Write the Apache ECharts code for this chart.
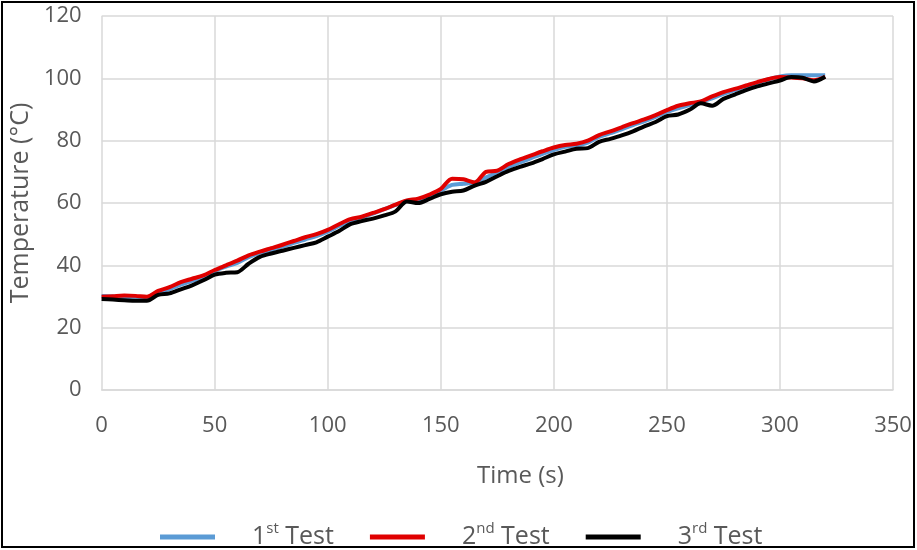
<!DOCTYPE html>
<html>
<head>
<meta charset="utf-8">
<script src="https://cdn.jsdelivr.net/npm/echarts@6/dist/echarts.min.js"></script>
<style>
html,body{margin:0;padding:0;background:#fff;}
#chart{width:917px;height:550px;}
</style>
</head>
<body>
<div id="chart"></div>
<script>
const times = [0,5,10,15,20,25,30,35,40,45,50,55,60,65,70,75,80,85,90,95,100,105,110,115,120,125,130,135,140,145,150,155,160,165,170,175,180,185,190,195,200,205,210,215,220,225,230,235,240,245,250,255,260,265,270,275,280,285,290,295,300,305,310,315,320];
const test1 = [30.2,30.0,29.8,29.9,29.8,31.4,32.4,33.8,35.0,36.3,38.2,39.6,40.8,42.6,44.0,45.0,46.0,47.2,48.3,49.4,50.8,52.6,54.3,55.4,56.6,58.0,59.4,60.6,61.0,62.4,64.0,65.8,66.2,66.6,68.2,69.8,71.6,73.0,74.4,75.8,77.0,78.0,78.5,79.4,81.2,82.4,83.6,85.0,86.2,87.6,89.2,90.4,91.4,92.5,93.6,95.0,96.2,97.4,98.6,99.7,100.6,101.0,101.0,101.0,101.0];
const test2 = [29.9,30.1,30.3,30.2,29.9,31.8,33.0,34.6,35.7,36.8,38.5,40.0,41.5,43.2,44.4,45.5,46.6,47.8,49.0,50.0,51.4,53.2,54.8,55.6,56.8,58.0,59.5,60.8,61.4,62.7,64.5,67.8,67.6,66.6,70.0,70.4,72.5,74.0,75.3,76.6,77.8,78.6,79.0,80.0,81.8,83.0,84.3,85.6,86.8,88.2,89.8,91.2,92.0,92.6,94.2,95.6,96.6,97.7,98.8,99.8,100.4,100.3,100.0,99.4,100.5];
const test3 = [29.2,29.0,28.8,28.6,28.6,30.5,31.0,32.3,33.6,35.2,37.0,37.6,37.8,40.5,42.7,43.8,44.7,45.6,46.5,47.4,49.2,51.0,53.2,54.2,55.0,56.0,57.3,60.5,60.0,61.3,62.8,63.6,64.0,65.6,66.8,68.6,70.3,71.6,72.7,74.1,75.6,76.5,77.4,77.6,79.6,80.6,81.7,83.0,84.6,86.0,87.9,88.4,89.9,92.0,91.2,93.4,94.8,96.2,97.4,98.4,99.3,100.4,100.2,99.0,100.5];
const seriesNames = ['1st Test','2nd Test','3rd Test'];
const legendRich = {'1st Test':['1','st'],'2nd Test':['2','nd'],'3rd Test':['3','rd']};
const xTicks = {min:0,max:350,interval:50};
const yTicks = {min:0,max:120,interval:20};

const pair = arr => times.map((t,i)=>[t,arr[i]]);
const txt = '#595959';
const font = 'Open Sans';
const chart = echarts.init(document.getElementById('chart'));
chart.setOption({
  animation:false,
  backgroundColor:'#fff',
  grid:{left:100,right:24,top:16,bottom:160,containLabel:false},
  graphic:[{type:'rect',shape:{x:2,y:2,width:912,height:545},style:{fill:'none',stroke:'#000',lineWidth:2},z:100}],
  xAxis:{type:'value',min:xTicks.min,max:xTicks.max,interval:xTicks.interval,
    name:'Time (s)',nameLocation:'middle',nameGap:74,
    nameTextStyle:{color:txt,fontSize:24,fontFamily:font,padding:[0,0,0,46]},
    axisLine:{show:true,lineStyle:{color:'#d9d9d9',width:1.5}},axisTick:{show:false},
    axisLabel:{color:txt,fontSize:22,fontFamily:font,margin:25},
    splitLine:{show:true,lineStyle:{color:'#d9d9d9',width:1.5}}},
  yAxis:{type:'value',min:yTicks.min,max:yTicks.max,interval:yTicks.interval,
    name:'Temperature (°C)',nameLocation:'middle',nameGap:68,
    nameTextStyle:{color:txt,fontSize:25,fontFamily:font},
    axisLine:{show:false},axisTick:{show:false},
    axisLabel:{color:txt,fontSize:22,fontFamily:font,margin:20},
    splitLine:{show:true,lineStyle:{color:'#d9d9d9',width:1.5}}},
  legend:{left:155,top:516,itemWidth:55,itemHeight:5,itemGap:36,icon:'rect',
    data:seriesNames,
    formatter:n=>'{a|'+legendRich[n][0]+'}{b|'+legendRich[n][1]+'}{a| Test}',
    textStyle:{color:txt,fontFamily:font,padding:[0,0,0,32],
      rich:{a:{fontSize:25,fontFamily:font,color:txt,lineHeight:32},
            b:{fontSize:15,fontFamily:font,color:txt,lineHeight:32,verticalAlign:'top',padding:[0,0,10,0]}}}},
  series:[
    {name:seriesNames[0],type:'line',data:pair(test1),showSymbol:false,smooth:0.3,lineStyle:{color:'#5b9bd5',width:4},itemStyle:{color:'#5b9bd5'}},
    {name:seriesNames[1],type:'line',data:pair(test2),showSymbol:false,smooth:0.3,lineStyle:{color:'#e00000',width:4},itemStyle:{color:'#e00000'}},
    {name:seriesNames[2],type:'line',data:pair(test3),showSymbol:false,smooth:0.3,lineStyle:{color:'#000000',width:4},itemStyle:{color:'#000000'}}
  ]
});
</script>
</body>
</html>
